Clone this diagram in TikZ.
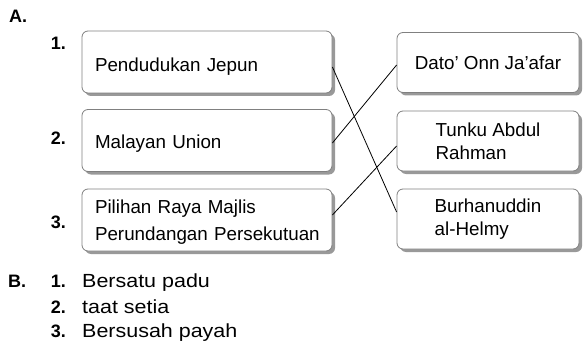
\documentclass[tikz,border=0pt]{standalone}
\usepackage{fontspec}
\setmainfont{Liberation Sans}
\usepackage{tikz}
\tikzset{
    % Matching boxes
    card/.style={draw=black!50, line width=0.8pt, fill=white, rounded corners=6pt,
        font=\fontsize{18.8}{23}\selectfont,
        preaction={fill=black!40, rounded corners=6pt, transform canvas={xshift=3pt, yshift=-3pt}}},
    leftcard/.style={card, minimum width=250pt, minimum height=62pt, text width=224pt, align=left, inner xsep=13pt},
    rightcard/.style={card, minimum width=182pt, minimum height=60pt, align=left},
    % Labels
    numlabel/.style={font=\fontsize{18}{22}\selectfont\bfseries, anchor=base east, inner sep=0pt},
    item/.style={font=\fontsize{19}{22}\selectfont\addfontfeatures{FakeStretch=1.13}, anchor=base west, inner sep=0pt},
    link/.style={line width=0.8pt, black}
}
\begin{document}
\begin{tikzpicture}[x=1pt, y=-1pt]
    \useasboundingbox (0,0) rectangle (584,345);

    % Part A
    \node[numlabel, anchor=base west] (partA) at (9,23) {A.};
    \node[numlabel] (n1) at (66,50) {1.};
    \node[numlabel] (n2) at (66,144) {2.};
    \node[numlabel] (n3) at (66,228) {3.};

    % Left column
    \node[leftcard, text height=18pt, text depth=0pt] (jepun) at (207,62) {Pendudukan Jepun};
    \node[leftcard, text height=16pt, text depth=0pt] (union) at (207,140.5) {Malayan Union};
    \node[leftcard, font=\fontsize{18.8}{27}\selectfont, text height=8pt, text depth=22pt] (pilihan) at (207,220) {Pilihan Raya Majlis\\\mbox{Perundangan Persekutuan}};

    % Right column
    \node[rightcard] (onn) at (488,62.5) {Dato' Onn Ja'afar};
    \node[rightcard] (tunku) at (488,141) {Tunku Abdul\\Rahman};
    \node[rightcard] (helmy) at (488,219) {Burhanuddin\\al-Helmy};

    % Matching lines
    \draw[link] ([yshift=-5pt]jepun.east) -- ([yshift=7pt]helmy.west);
    \draw[link] ([yshift=-2.5pt]union.east) -- ([yshift=-2.5pt]onn.west);
    \draw[link] ([yshift=5pt]pilihan.east) -- ([yshift=-5pt]tunku.west);

    % Part B
    \node[numlabel, anchor=base west] (partB) at (8,287) {B.};
    \node[numlabel] (b1) at (66,287) {1.};
    \node[item] (padu) at (82,287) {Bersatu padu};
    \node[numlabel] (b2) at (66,313) {2.};
    \node[item] (setia) at (82,313) {taat setia};
    \node[numlabel] (b3) at (66,337) {3.};
    \node[item] (payah) at (82,337) {Bersusah payah};
\end{tikzpicture}
\end{document}
